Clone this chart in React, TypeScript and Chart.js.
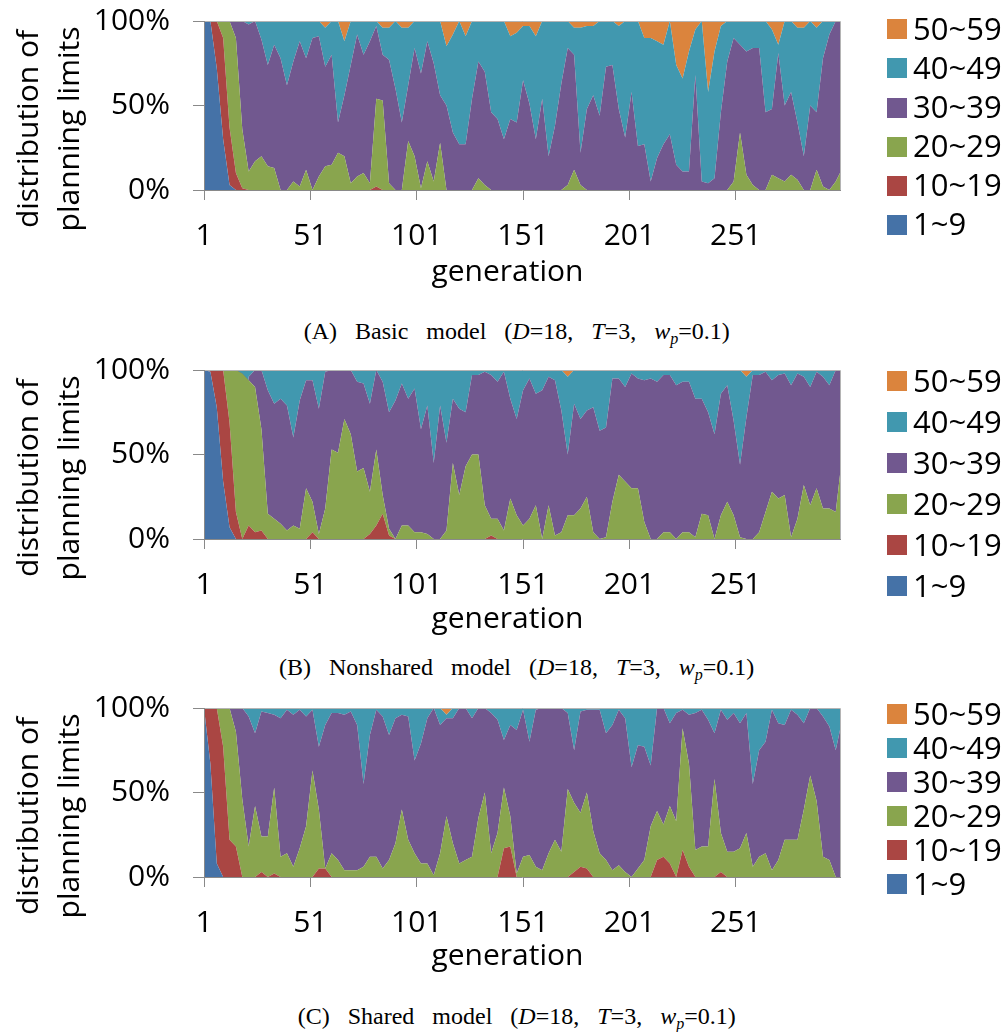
import React, { useEffect, useRef } from "react";
import { Chart, registerables } from "chart.js";

Chart.register(...registerables);

// ---------------- DATA ----------------
// generations at which the distribution was read off the picture
const GENERATIONS = [
  1, 4, 7, 10, 13, 16, 19, 22, 25, 28,
  31, 34, 37, 40, 43, 46, 49, 52, 55, 58,
  61, 64, 67, 70, 73, 76, 79, 82, 85, 88,
  91, 94, 97, 100, 103, 106, 109, 112, 115, 118,
  121, 124, 127, 130, 133, 136, 139, 142, 145, 148,
  151, 154, 157, 160, 163, 166, 169, 172, 175, 178,
  181, 184, 187, 190, 193, 196, 199, 202, 205, 208,
  211, 214, 217, 220, 223, 226, 229, 232, 235, 238,
  241, 244, 247, 250, 253, 256, 259, 262, 265, 268,
  271, 274, 277, 280, 283, 286, 289, 292, 295, 298,
  300,
];
const X_TICKS = [1, 51, 101, 151, 201, 251];
const Y_TICKS = [0, 50, 100];
const SERIES_LABELS = ["1~9", "10~19", "20~29", "30~39", "40~49", "50~59"];
const SERIES_COLORS = ["#4572A7", "#AA4643", "#89A54E", "#71588F", "#4198AF", "#DB843D"];

// cumulative share (%) of planning limits up to the band's upper end
// (A) Basic model
const A_UPTO_9 = [
  100, 100, 72, 30, 3, 0, 0, 0, 0, 0,
  0, 0, 0, 0, 0, 0, 0, 0, 0, 0,
  0, 0, 0, 0, 0, 0, 0, 0, 0, 0,
  0, 0, 0, 0, 0, 0, 0, 0, 0, 0,
  0, 0, 0, 0, 0, 0, 0, 0, 0, 0,
  0, 0, 0, 0, 0, 0, 0, 0, 0, 0,
  0, 0, 0, 0, 0, 0, 0, 0, 0, 0,
  0, 0, 0, 0, 0, 0, 0, 0, 0, 0,
  0, 0, 0, 0, 0, 0, 0, 0, 0, 0,
  0, 0, 0, 0, 0, 0, 0, 0, 0, 0,
  0,
];
const A_UPTO_19 = [
  100, 100, 100, 90, 37, 10, 1, 0, 0, 0,
  0, 0, 0, 0, 0, 0, 0, 0, 0, 0,
  0, 0, 0, 0, 0, 0, 0, 2, 0, 0,
  0, 0, 0, 0, 0, 0, 0, 0, 0, 0,
  0, 0, 0, 0, 0, 0, 0, 0, 0, 0,
  0, 0, 0, 0, 0, 0, 0, 0, 0, 0,
  0, 0, 0, 0, 0, 0, 0, 0, 0, 0,
  0, 0, 0, 0, 0, 0, 0, 0, 0, 0,
  0, 0, 0, 0, 0, 0, 0, 0, 0, 0,
  0, 0, 0, 0, 0, 0, 0, 0, 0, 0,
  0,
];
const A_UPTO_29 = [
  100, 100, 100, 100, 100, 90, 36, 11, 17, 20,
  14, 13, 0, 0, 5, 2, 12, 0, 8, 14,
  15, 22, 20, 4, 8, 10, 4, 54, 53, 4,
  0, 0, 29, 20, 1, 17, 5, 28, 0, 0,
  0, 0, 0, 7, 3, 0, 0, 0, 0, 0,
  0, 0, 0, 0, 0, 0, 0, 3, 12, 3,
  0, 0, 0, 0, 0, 0, 0, 0, 0, 0,
  0, 0, 0, 0, 0, 0, 0, 0, 0, 0,
  0, 0, 0, 5, 34, 9, 3, 0, 0, 9,
  7, 5, 9, 6, 0, 0, 12, 2, 0, 5,
  10,
];
const A_UPTO_39 = [
  100, 100, 100, 100, 100, 100, 100, 98, 100, 89,
  74, 86, 78, 62, 76, 88, 78, 90, 91, 73,
  80, 40, 56, 74, 92, 80, 88, 97, 80, 77,
  60, 40, 62, 84, 69, 88, 75, 56, 50, 34,
  27, 27, 54, 76, 70, 46, 42, 30, 42, 40,
  65, 51, 30, 54, 20, 38, 63, 84, 80, 22,
  48, 56, 44, 73, 74, 48, 31, 58, 26, 27,
  5, 19, 27, 33, 15, 11, 11, 68, 5, 4,
  7, 46, 76, 90, 86, 82, 84, 84, 46, 48,
  81, 50, 58, 40, 20, 50, 46, 78, 92, 100,
  100,
];
const A_UPTO_49 = [
  100, 100, 100, 100, 100, 100, 100, 100, 100, 100,
  100, 100, 100, 100, 100, 100, 100, 100, 100, 96,
  100, 100, 88, 100, 100, 100, 100, 100, 96, 96,
  100, 96, 96, 100, 100, 100, 100, 100, 85, 92,
  100, 91, 100, 100, 100, 100, 100, 100, 91, 93,
  97, 97, 91, 100, 100, 100, 100, 100, 96, 96,
  97, 97, 100, 100, 100, 97, 100, 100, 100, 90,
  90, 88, 86, 100, 74, 66, 82, 95, 100, 58,
  82, 97, 100, 100, 100, 100, 100, 100, 100, 95,
  86, 100, 100, 96, 96, 100, 96, 100, 100, 100,
  100,
];

// (B) Nonshared model
const B_UPTO_9 = [
  100, 99, 78, 34, 7, 0, 0, 0, 0, 0,
  0, 0, 0, 0, 0, 0, 0, 0, 0, 0,
  0, 0, 0, 0, 0, 0, 0, 0, 0, 0,
  0, 0, 0, 0, 0, 0, 0, 0, 0, 0,
  0, 0, 0, 0, 0, 0, 0, 0, 0, 0,
  0, 0, 0, 0, 0, 0, 0, 0, 0, 0,
  0, 0, 0, 0, 0, 0, 0, 0, 0, 0,
  0, 0, 0, 0, 0, 0, 0, 0, 0, 0,
  0, 0, 0, 0, 0, 0, 0, 0, 0, 0,
  0, 0, 0, 0, 0, 0, 0, 0, 0, 0,
  0,
];
const B_UPTO_19 = [
  100, 100, 100, 100, 69, 16, 0, 8, 4, 5,
  0, 0, 0, 0, 0, 0, 0, 4, 0, 0,
  0, 0, 0, 0, 0, 0, 3, 8, 15, 2,
  0, 0, 0, 0, 0, 0, 0, 0, 0, 0,
  0, 0, 0, 0, 0, 2, 0, 0, 0, 0,
  0, 0, 0, 0, 0, 0, 0, 0, 0, 0,
  0, 0, 0, 0, 0, 0, 0, 0, 0, 0,
  0, 0, 0, 0, 0, 0, 0, 0, 0, 0,
  0, 0, 0, 0, 0, 0, 0, 0, 0, 0,
  0, 0, 0, 0, 0, 0, 0, 0, 0, 0,
  0,
];
const B_UPTO_29 = [
  100, 100, 100, 100, 100, 100, 98, 94, 90, 65,
  15, 12, 9, 5, 8, 6, 30, 22, 3, 18,
  53, 51, 71, 62, 40, 42, 28, 53, 26, 6,
  0, 8, 8, 4, 4, 3, 0, 0, 5, 45,
  26, 43, 50, 50, 20, 12, 12, 5, 24, 14,
  8, 12, 20, 0, 20, 2, 4, 14, 14, 18,
  25, 4, 0, 1, 22, 38, 34, 30, 30, 10,
  0, 0, 4, 4, 0, 4, 4, 1, 15, 14,
  0, 14, 22, 14, 1, 0, 0, 4, 16, 28,
  24, 26, 1, 12, 32, 20, 30, 18, 18, 16,
  38,
];
const B_UPTO_39 = [
  100, 100, 100, 100, 100, 100, 97, 96, 100, 100,
  88, 80, 83, 79, 60, 82, 94, 94, 77, 99,
  100, 100, 100, 100, 93, 92, 80, 100, 93, 75,
  82, 92, 83, 89, 65, 79, 45, 79, 57, 83,
  77, 75, 97, 97, 99, 97, 93, 99, 83, 71,
  88, 95, 86, 88, 96, 94, 76, 50, 80, 71,
  76, 78, 64, 66, 95, 95, 90, 98, 95, 94,
  95, 93, 97, 97, 91, 93, 93, 83, 83, 75,
  62, 86, 91, 70, 44, 72, 97, 97, 99, 94,
  97, 98, 91, 98, 96, 90, 99, 96, 91, 100,
  100,
];
const B_UPTO_49 = [
  100, 100, 100, 100, 100, 100, 100, 100, 100, 100,
  100, 100, 100, 100, 100, 100, 100, 100, 100, 100,
  100, 100, 100, 100, 100, 100, 100, 100, 100, 100,
  100, 100, 100, 100, 100, 100, 100, 100, 100, 100,
  100, 100, 100, 100, 100, 100, 100, 100, 100, 100,
  100, 100, 100, 100, 100, 100, 100, 96, 100, 100,
  100, 100, 100, 100, 100, 100, 100, 100, 100, 100,
  100, 100, 100, 100, 100, 100, 100, 100, 100, 100,
  100, 100, 100, 100, 100, 96, 100, 100, 100, 100,
  100, 100, 100, 100, 100, 100, 100, 100, 100, 100,
  100,
];

// (C) Shared model
const C_UPTO_9 = [
  100, 67, 8, 0, 0, 0, 0, 0, 0, 0,
  0, 0, 0, 0, 0, 0, 0, 0, 0, 0,
  0, 0, 0, 0, 0, 0, 0, 0, 0, 0,
  0, 0, 0, 0, 0, 0, 0, 0, 0, 0,
  0, 0, 0, 0, 0, 0, 0, 0, 0, 0,
  0, 0, 0, 0, 0, 0, 0, 0, 0, 0,
  0, 0, 0, 0, 0, 0, 0, 0, 0, 0,
  0, 0, 0, 0, 0, 0, 0, 0, 0, 0,
  0, 0, 0, 0, 0, 0, 0, 0, 0, 0,
  0, 0, 0, 0, 0, 0, 0, 0, 0, 0,
  0,
];
const C_UPTO_19 = [
  100, 100, 100, 77, 22, 18, 0, 0, 0, 3,
  0, 2, 0, 0, 0, 0, 0, 0, 5, 5,
  0, 0, 0, 0, 0, 0, 0, 0, 0, 0,
  0, 0, 0, 0, 0, 0, 0, 0, 0, 0,
  0, 0, 0, 0, 0, 0, 0, 17, 18, 0,
  0, 0, 0, 0, 0, 0, 0, 0, 3, 6,
  5, 0, 0, 0, 0, 0, 0, 0, 0, 0,
  0, 10, 12, 8, 0, 16, 6, 0, 0, 0,
  0, 3, 0, 0, 0, 0, 0, 0, 0, 0,
  0, 0, 0, 0, 0, 0, 0, 0, 0, 0,
  0,
];
const C_UPTO_29 = [
  100, 100, 100, 100, 100, 86, 46, 18, 42, 24,
  24, 53, 12, 14, 6, 17, 30, 63, 40, 5,
  14, 10, 4, 4, 4, 6, 12, 12, 5, 10,
  20, 40, 22, 14, 8, 8, 1, 14, 36, 20,
  8, 10, 12, 35, 50, 14, 26, 53, 36, 2,
  12, 13, 6, 4, 14, 22, 15, 52, 44, 38,
  50, 27, 14, 10, 4, 7, 3, 0, 5, 10,
  30, 39, 31, 42, 33, 88, 67, 16, 18, 18,
  58, 26, 15, 15, 17, 26, 6, 12, 14, 4,
  10, 22, 22, 22, 40, 60, 45, 12, 10, 0,
  0,
];
const C_UPTO_39 = [
  100, 100, 100, 100, 100, 100, 100, 95, 85, 98,
  97, 96, 94, 99, 96, 99, 95, 99, 77, 90,
  97, 97, 96, 98, 90, 55, 84, 99, 95, 84,
  94, 96, 95, 69, 79, 94, 100, 90, 94, 94,
  100, 100, 94, 100, 100, 97, 93, 81, 90, 87,
  99, 80, 99, 100, 100, 100, 100, 97, 75, 98,
  99, 99, 99, 85, 90, 99, 94, 65, 78, 77,
  66, 100, 100, 91, 97, 99, 96, 97, 99, 93,
  85, 99, 93, 97, 91, 97, 55, 75, 80, 99,
  91, 90, 99, 96, 91, 100, 100, 95, 89, 75,
  87,
];
const C_UPTO_49 = [
  100, 100, 100, 100, 100, 100, 100, 100, 100, 100,
  100, 100, 100, 100, 100, 100, 100, 100, 100, 100,
  100, 100, 100, 100, 100, 100, 100, 100, 100, 100,
  100, 100, 100, 100, 100, 100, 100, 100, 96, 100,
  100, 100, 100, 100, 100, 100, 100, 100, 100, 100,
  100, 100, 100, 100, 100, 100, 100, 100, 100, 100,
  100, 100, 100, 100, 100, 100, 100, 100, 100, 100,
  100, 100, 100, 100, 100, 100, 100, 100, 100, 100,
  100, 100, 100, 100, 100, 100, 100, 100, 100, 100,
  100, 100, 100, 100, 100, 100, 100, 100, 100, 100,
  100,
];

// ---------------- LAYOUT ----------------
const W = 1007;
const PLOT_LEFT = 204;
const PLOT_RIGHT = 840;
const PAD_TOP = 45;
const PLOT_H = 169;
const X_AXIS_H = 60;
const CANVAS_H = PAD_TOP + PLOT_H + X_AXIS_H;
const FONT = "'Open Sans', sans-serif";
const SERIF = "'Liberation Serif', 'Times New Roman', serif";
const AXIS_COLOR = "#898989";
const FRAME_COLOR = "#b4b4b4";

const framePlugin = {
  id: "frameTR",
  afterDatasetsDraw(chart: any) {
    const { ctx, chartArea: a } = chart;
    ctx.save();
    ctx.strokeStyle = FRAME_COLOR;
    ctx.lineWidth = 1;
    ctx.beginPath();
    ctx.moveTo(a.left, Math.round(a.top) + 0.5);
    ctx.lineTo(Math.round(a.right) + 0.5, Math.round(a.top) + 0.5);
    ctx.lineTo(Math.round(a.right) + 0.5, a.bottom);
    ctx.stroke();
    ctx.restore();
  },
};

type PanelProps = {
  plotTop: number;
  bounds: number[][];
  letter: string;
  model: string;
  legendFirst: number;
  legendPitch: number;
  genBaseline: number;
  captionBaseline: number;
  titleCenterY: number;
};

function Panel(p: PanelProps) {
  const ref = useRef<HTMLCanvasElement | null>(null);

  useEffect(() => {
    if (!ref.current) return;
    const [u9, u19, u29, u39, u49] = p.bounds;
    const shares = [
      u9,
      u19.map((v, i) => v - u9[i]),
      u29.map((v, i) => v - u19[i]),
      u39.map((v, i) => v - u29[i]),
      u49.map((v, i) => v - u39[i]),
      u49.map((v) => 100 - v),
    ];
    const datasets = shares.map((vals, k) => ({
      label: SERIES_LABELS[k],
      data: vals.map((v, i) => ({ x: GENERATIONS[i], y: v })),
      backgroundColor: SERIES_COLORS[k],
      borderColor: "rgba(0,0,0,0)",
      borderWidth: 0,
      pointRadius: 0,
      pointHoverRadius: 0,
      tension: 0,
      fill: k === 0 ? "origin" : "-1",
    }));
    const tickFont = { family: FONT, size: 30 };
    const chart = new Chart(ref.current, {
      type: "line",
      data: { datasets },
      options: {
        animation: false,
        responsive: false,
        events: [],
        layout: { padding: { top: PAD_TOP, right: W - PLOT_RIGHT, left: 0, bottom: 0 } },
        plugins: { legend: { display: false }, tooltip: { enabled: false } },
        scales: {
          x: {
            type: "linear",
            min: 1,
            max: 300,
            afterBuildTicks: (s: any) => {
              s.ticks = X_TICKS.map((v) => ({ value: v }));
            },
            afterFit: (s: any) => {
              s.height = X_AXIS_H;
            },
            ticks: { autoSkip: false, maxRotation: 0, padding: 18, font: tickFont, color: "#000" },
            grid: { drawOnChartArea: false, drawTicks: true, tickLength: 10, color: AXIS_COLOR },
            border: { color: AXIS_COLOR, width: 1, z: 1 },
          },
          y: {
            stacked: true,
            min: 0,
            max: 100,
            afterBuildTicks: (s: any) => {
              s.ticks = Y_TICKS.map((v) => ({ value: v }));
            },
            afterFit: (s: any) => {
              s.width = PLOT_LEFT;
            },
            ticks: { padding: 23, font: tickFont, color: "#000", callback: (v: any) => v + "%" },
            grid: { drawOnChartArea: false, drawTicks: true, tickLength: 11, color: AXIS_COLOR },
            border: { color: AXIS_COLOR, width: 1, z: 1 },
          },
        },
      } as any,
      plugins: [framePlugin],
    });
    return () => chart.destroy();
  }, []);

  const canvasTop = p.plotTop - PAD_TOP;
  const legendOrder = [5, 4, 3, 2, 1, 0];
  const lf = 31;
  return (
    <>
      <canvas
        ref={ref}
        width={W}
        height={CANVAS_H}
        style={{ position: "absolute", left: 0, top: canvasTop, display: "block" }}
      />
      <div
        style={{
          position: "absolute",
          left: 26.5,
          top: p.titleCenterY,
          transform: "translate(-50%, -50%) rotate(-90deg)",
          font: `30px ${FONT}`,
          lineHeight: "30px",
          whiteSpace: "nowrap",
          color: "#000",
        }}
      >
        distribution of
      </div>
      <div
        style={{
          position: "absolute",
          left: 68,
          top: p.titleCenterY,
          transform: "translate(-50%, -50%) rotate(-90deg)",
          font: `30px ${FONT}`,
          lineHeight: "30px",
          whiteSpace: "nowrap",
          color: "#000",
        }}
      >
        planning limits
      </div>
      <div
        style={{
          position: "absolute",
          left: 507.5,
          top: p.genBaseline - 0.888 * 30,
          transform: "translateX(-50%)",
          font: `30px ${FONT}`,
          lineHeight: "30px",
          whiteSpace: "nowrap",
          color: "#000",
        }}
      >
        generation
      </div>
      {legendOrder.map((k, j) => {
        const cy = p.legendFirst + j * p.legendPitch;
        return (
          <React.Fragment key={k}>
            <div
              style={{
                position: "absolute",
                left: 887,
                top: cy - 10,
                width: 20,
                height: 20,
                background: SERIES_COLORS[k],
              }}
            />
            <div
              style={{
                position: "absolute",
                left: 913,
                top: cy - 0.531 * lf,
                font: `${lf}px ${FONT}`,
                lineHeight: `${lf}px`,
                whiteSpace: "nowrap",
                color: "#000",
              }}
            >
              {SERIES_LABELS[k]}
            </div>
          </React.Fragment>
        );
      })}
      <div
        style={{
          position: "absolute",
          left: 516.7,
          top: p.captionBaseline - 0.8375 * 24,
          transform: "translateX(-50%)",
          font: `24px ${SERIF}`,
          lineHeight: "24px",
          wordSpacing: "12px",
          whiteSpace: "nowrap",
          color: "#000",
        }}
      >
        ({p.letter}) {p.model} (<i>D</i>=18, <i>T</i>=3,{" "}
        <i>w</i>
        <i style={{ fontSize: 16, position: "relative", top: 5 }}>p</i>=0.1)
      </div>
    </>
  );
}

export default function App() {
  return (
    <div
      style={{
        position: "absolute",
        left: 0,
        top: 0,
        width: W,
        height: 1032,
        background: "#fff",
        overflow: "hidden",
      }}
    >
      <Panel
        plotTop={21}
        bounds={[A_UPTO_9, A_UPTO_19, A_UPTO_29, A_UPTO_39, A_UPTO_49]}
        letter="A"
        model="Basic model"
        legendFirst={29.3}
        legendPitch={39.1}
        genBaseline={281.5}
        captionBaseline={339}
        titleCenterY={129}
      />
      <Panel
        plotTop={370}
        bounds={[B_UPTO_9, B_UPTO_19, B_UPTO_29, B_UPTO_39, B_UPTO_49]}
        letter="B"
        model="Nonshared model"
        legendFirst={381}
        legendPitch={41}
        genBaseline={629}
        captionBaseline={675}
        titleCenterY={478}
      />
      <Panel
        plotTop={708}
        bounds={[C_UPTO_9, C_UPTO_19, C_UPTO_29, C_UPTO_39, C_UPTO_49]}
        letter="C"
        model="Shared model"
        legendFirst={714}
        legendPitch={34}
        genBaseline={966}
        captionBaseline={1024}
        titleCenterY={816}
      />
    </div>
  );
}
